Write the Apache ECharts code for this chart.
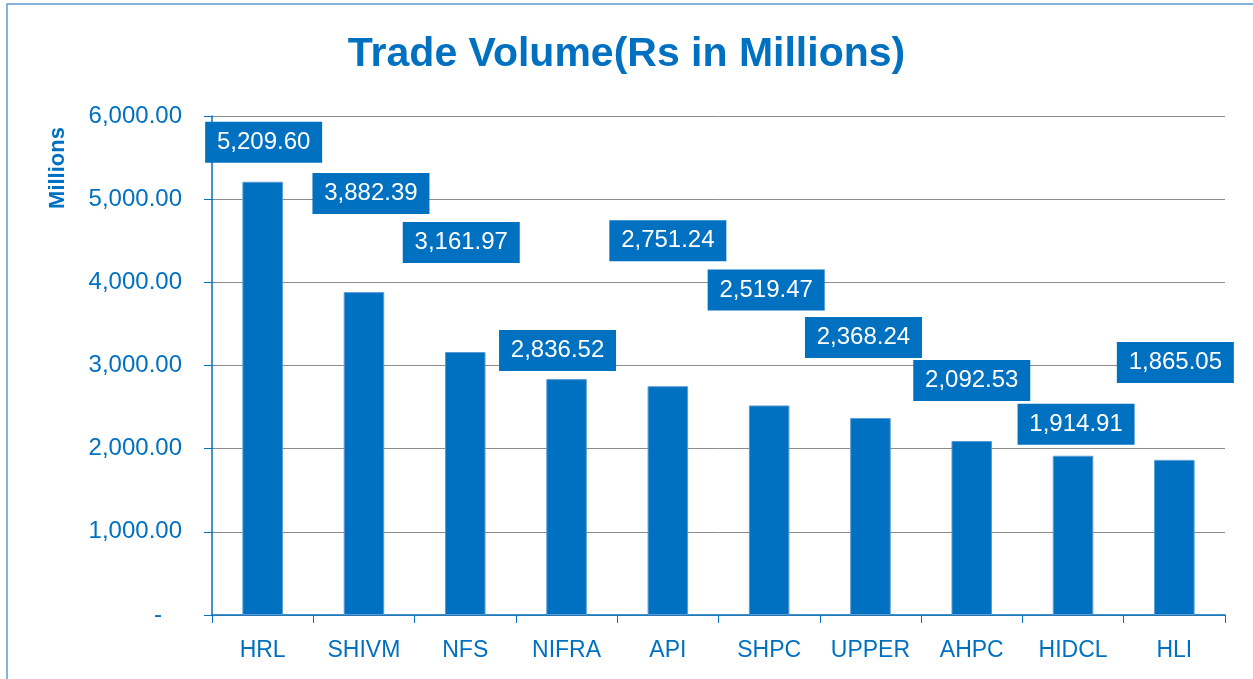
<!DOCTYPE html>
<html>
<head>
<meta charset="utf-8">
<script src="https://cdn.jsdelivr.net/npm/echarts@6/dist/echarts.min.js"></script>
<style>
  html, body { margin: 0; padding: 0; background: #fff; }
  #chart { width: 1253px; height: 679px; }
</style>
</head>
<body>
<div id="chart"></div>
<script>
// trade volume per company, Rs in millions
var companies = ['HRL', 'SHIVM', 'NFS', 'NIFRA', 'API', 'SHPC', 'UPPER', 'AHPC', 'HIDCL', 'HLI'];
var volumes = [5209.60, 3882.39, 3161.97, 2836.52, 2751.24, 2519.47, 2368.24, 2092.53, 1914.91, 1865.05];

// labels were dragged around by hand in the original, so shift each one
var labelShift = [[1, -19], [7, -78], [-4, -89], [-9, -8], [0, -125], [-3, -95], [-7, -60], [0, -40], [3, -11], [1, -77]];

var blue = '#0070C0';
var fontFam = '"Liberation Sans", Arial, sans-serif';

function fmt(v) {
    return v.toFixed(2).replace(/\B(?=(\d{3})+(?!\d))/g, ',');
}

var chart = echarts.init(document.getElementById('chart'));

chart.setOption({
    backgroundColor: '#fff',
    animation: false,
    title: {
        text: 'Trade Volume(Rs in Millions)',
        left: 'center',
        top: 29,
        textStyle: { color: blue, fontSize: 41, fontWeight: 'bold', fontFamily: fontFam }
    },
    graphic: [{
        type: 'rect',
        shape: { x: 7, y: 4, width: 1300, height: 700 },
        style: { fill: 'none', stroke: '#5B9BD5', lineWidth: 1.5 },
        silent: true
    }, {
        // axis name, rotated beside the value axis
        type: 'text',
        x: 58, y: 168,
        rotation: Math.PI / 2,
        style: {
            text: 'Millions', fill: blue, fontSize: 22, fontWeight: 'bold',
            fontFamily: fontFam, align: 'center', verticalAlign: 'middle'
        }
    }],
    grid: { left: 212, right: 28, top: 116, bottom: 64 },
    xAxis: {
        type: 'category',
        data: companies,
        axisLine: { lineStyle: { color: blue, width: 1.5 } },
        axisTick: { show: true, length: 8, interval: 0, lineStyle: { color: blue } },
        axisLabel: { color: blue, fontSize: 23, fontFamily: fontFam, margin: 24, interval: 0 }
    },
    yAxis: {
        type: 'value',
        min: 0,
        max: 6000,
        interval: 1000,
        axisLine: { show: true, lineStyle: { color: blue, width: 1.5 } },
        axisTick: { show: true, length: 8, lineStyle: { color: blue } },
        axisLabel: {
            color: blue, fontSize: 24, fontFamily: fontFam, margin: 30,
            formatter: function (v) { return v === 0 ? '-   ' : fmt(v); }
        },
        splitLine: { lineStyle: { color: '#8c8c8c', width: 1 } }
    },
    series: [{
        type: 'bar',
        barWidth: '40%',
        data: volumes.map(function (v, i) {
            return { value: v, label: { offset: labelShift[i] } };
        }),
        itemStyle: { color: blue, borderColor: '#5B9BD5', borderWidth: 1 },
        label: {
            show: true,
            position: 'top',
            distance: 0,
            formatter: function (p) { return fmt(p.value); },
            color: '#fff',
            fontSize: 24,
            fontFamily: fontFam,
            backgroundColor: blue,
            width: 117,
            height: 41,
            lineHeight: 41,
            align: 'center'
        }
    }]
});
</script>
</body>
</html>
